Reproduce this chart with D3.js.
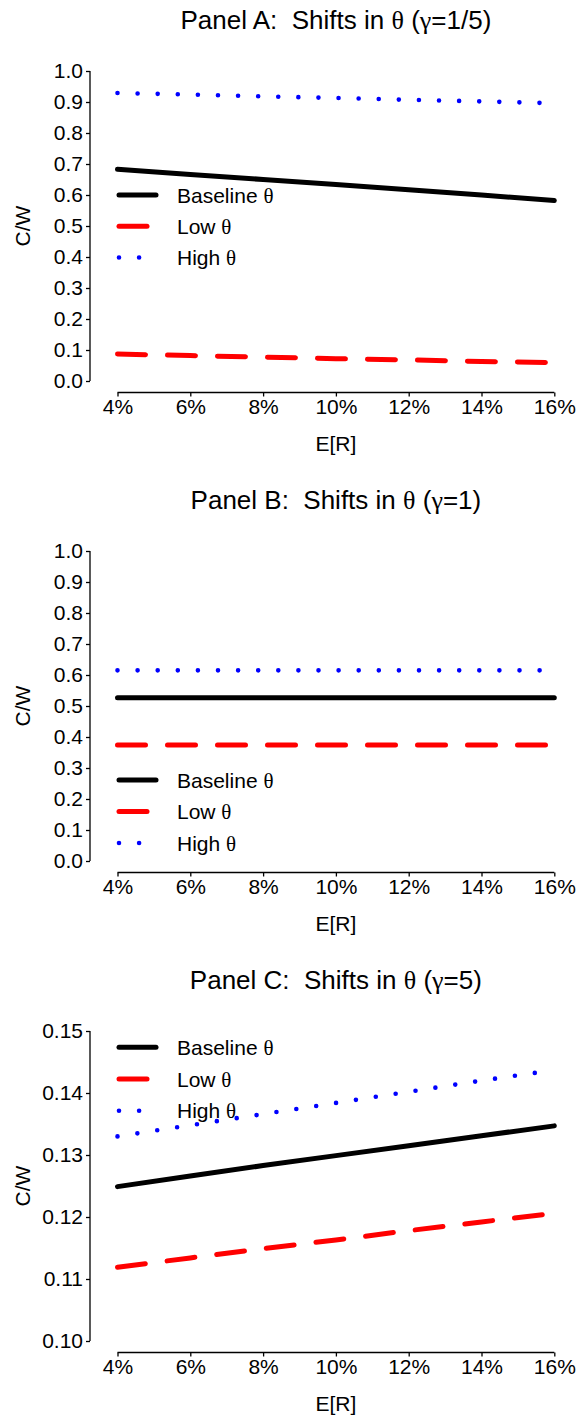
<!DOCTYPE html>
<html>
<head>
<meta charset="utf-8">
<script src="https://cdn.jsdelivr.net/npm/d3@7"></script>
<style>
  html, body { margin: 0; padding: 0; background: #fff; }
  svg text { font-family: "Liberation Sans", Arial, Helvetica, sans-serif; fill: #000; white-space: pre; }
  svg text .greek { font-family: "Liberation Serif", "Times New Roman", serif; }
</style>
</head>
<body>
<div id="chart"></div>
<script>
// Expected return E[R] (percent) at which each series is evaluated
const expectedReturn = [4, 6, 8, 10, 12, 14, 16];
const xTickValues = [4, 6, 8, 10, 12, 14, 16];

// Panel A: gamma = 1/5
const baselineA = [0.683, 0.666, 0.650, 0.634, 0.617, 0.600, 0.582];
const lowA      = [0.087, 0.082, 0.077, 0.072, 0.068, 0.063, 0.059];
const highA     = [0.929, 0.924, 0.918, 0.913, 0.907, 0.902, 0.896];

// Panel B: gamma = 1
const baselineB = [0.527, 0.527, 0.527, 0.527, 0.527, 0.527, 0.527];
const lowB      = [0.374, 0.374, 0.374, 0.374, 0.374, 0.374, 0.374];
const highB     = [0.615, 0.615, 0.615, 0.615, 0.615, 0.615, 0.615];

// Panel C: gamma = 5
const baselineC = [0.1249, 0.1266, 0.1283, 0.1299, 0.1315, 0.1331, 0.1347];
const lowC      = [0.1119, 0.1134, 0.1149, 0.1163, 0.1178, 0.1192, 0.1206];
const highC     = [0.1330, 0.1348, 0.1366, 0.1384, 0.1402, 0.1420, 0.1437];

const yTicksAB = [0, 0.1, 0.2, 0.3, 0.4, 0.5, 0.6, 0.7, 0.8, 0.9, 1.0];
const yTicksC  = [0.10, 0.11, 0.12, 0.13, 0.14, 0.15];

const seriesNames = ["Baseline ", "Low ", "High "];

// title pieces: [latin, greek, latin, greek, latin]
const panels = [
  { title: ["Panel A:  Shifts in ", "θ", " (", "γ", "=1/5)"], series: [baselineA, lowA, highA],
    yDomain: [0, 1], yTicks: yTicksAB, yFmt: d3.format(".1f"), legendY: [195, 226.3, 257.5] },
  { title: ["Panel B:  Shifts in ", "θ", " (", "γ", "=1)"], series: [baselineB, lowB, highB],
    yDomain: [0, 1], yTicks: yTicksAB, yFmt: d3.format(".1f"), legendY: [300, 331.5, 363] },
  { title: ["Panel C:  Shifts in ", "θ", " (", "γ", "=5)"], series: [baselineC, lowC, highC],
    yDomain: [0.10, 0.15], yTicks: yTicksC, yFmt: d3.format(".2f"), legendY: [87.3, 119, 150.7] }
];

// line styles: solid black, long red dashes, blue dots
const styles = [
  { color: "#000000", dash: null },
  { color: "#ff0000", dash: "28,22" },
  { color: "#0000ff", dash: "0,20.1" }
];

const W = 577, H = 1416, panelH = 480;
const plotTop = 71, plotBottom = 381, xAxisY = 392.5, yAxisX = 90;
const xLeft = 117.5, xRight = 554.3;

const svg = d3.select("#chart").append("svg")
  .attr("width", W).attr("height", H);

const x = d3.scaleLinear().domain([4, 16]).range([xLeft, xRight]);

panels.forEach((p, i) => {
  const g = svg.append("g").attr("transform", `translate(0,${i * panelH})`);
  const y = d3.scaleLinear().domain(p.yDomain).range([plotBottom, plotTop]);

  // title, with Greek letters set in a serif face
  const t = g.append("text")
    .attr("x", (xLeft + xRight) / 2).attr("y", 29)
    .attr("text-anchor", "middle")
    .style("font-size", "26px");
  p.title.forEach((s, j) => {
    t.append("tspan").attr("class", j % 2 ? "greek" : null).text(s);
  });

  // y axis
  const yAxis = d3.axisLeft(y).tickValues(p.yTicks).tickFormat(p.yFmt)
    .tickSizeOuter(0).tickSizeInner(4).tickPadding(3);
  const ya = g.append("g").attr("transform", `translate(${yAxisX},0)`).call(yAxis);
  ya.attr("font-family", null).attr("font-size", null);
  ya.select(".domain").attr("d", `M0,${plotBottom}V${plotTop}`).attr("stroke", "#000").attr("stroke-width", 1.3);
  ya.selectAll(".tick line").attr("stroke", "#000").attr("stroke-width", 1.3);
  ya.selectAll(".tick text").style("font-size", "21px");

  // x axis
  const xAxis = d3.axisBottom(x).tickValues(xTickValues).tickFormat(d => d + "%")
    .tickSizeOuter(0).tickSizeInner(4).tickPadding(3);
  const xa = g.append("g").attr("transform", `translate(0,${xAxisY})`).call(xAxis);
  xa.attr("font-family", null).attr("font-size", null);
  xa.select(".domain").attr("d", `M${xLeft},0H${xRight}`).attr("stroke", "#000").attr("stroke-width", 1.3);
  xa.selectAll(".tick line").attr("stroke", "#000").attr("stroke-width", 1.3);
  xa.selectAll(".tick text").style("font-size", "21px");

  // axis titles
  g.append("text")
    .attr("transform", `translate(30,${(plotTop + plotBottom) / 2}) rotate(-90)`)
    .attr("text-anchor", "middle")
    .style("font-size", "21px")
    .text("C/W");
  g.append("text")
    .attr("x", (xLeft + xRight) / 2).attr("y", 451)
    .attr("text-anchor", "middle")
    .style("font-size", "21px")
    .text("E[R]");

  // series lines
  const line = d3.line().x(d => x(d[0])).y(d => y(d[1]));
  p.series.forEach((vals, k) => {
    const pts = expectedReturn.map((e, j) => [e, vals[j]]);
    g.append("path")
      .datum(pts)
      .attr("d", line)
      .attr("fill", "none")
      .attr("stroke", styles[k].color)
      .attr("stroke-width", k === 2 ? 4.6 : 5)
      .attr("stroke-linecap", "round")
      .attr("stroke-dasharray", styles[k].dash);
  });

  // legend
  p.legendY.forEach((ly, k) => {
    g.append("line")
      .attr("x1", 119).attr("x2", 156)
      .attr("y1", ly).attr("y2", ly)
      .attr("stroke", styles[k].color)
      .attr("stroke-width", k === 2 ? 4.6 : 5)
      .attr("stroke-linecap", "round")
      .attr("stroke-dasharray", styles[k].dash);
    const lt = g.append("text")
      .attr("x", 177).attr("y", ly + 7.5)
      .style("font-size", "21px");
    lt.append("tspan").text(seriesNames[k]);
    lt.append("tspan").attr("class", "greek").text("θ");
  });
});
</script>
</body>
</html>
